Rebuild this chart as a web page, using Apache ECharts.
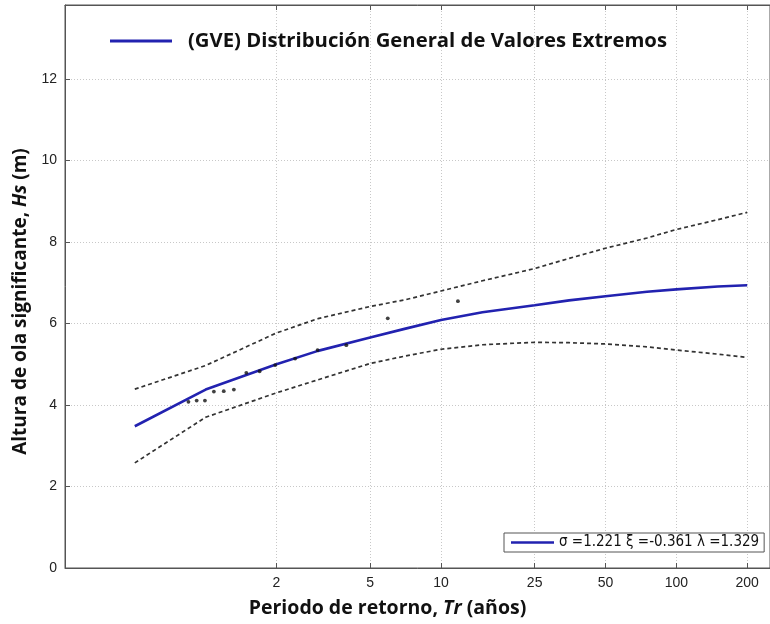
<!DOCTYPE html>
<html>
<head>
<meta charset="utf-8">
<script src="https://cdn.jsdelivr.net/npm/echarts@6/dist/echarts.min.js"></script>
</head>
<body style="margin:0;background:#fff">
<div id="main" style="width:770px;height:624px"></div>
<script type="text/javascript">
// return periods (years) where the fitted curve and its bounds are sampled
var periods  = [0.5, 1, 2, 3, 5, 7, 10, 15, 25, 35, 50, 75, 100, 150, 200];
var hsFit    = [3.48, 4.38, 5.00, 5.33, 5.66, 5.87, 6.09, 6.28, 6.45, 6.57, 6.67, 6.78, 6.84, 6.91, 6.94];
var hsUpper  = [4.39, 4.97, 5.77, 6.12, 6.42, 6.58, 6.80, 7.05, 7.35, 7.60, 7.85, 8.10, 8.31, 8.55, 8.73];
var hsLower  = [2.58, 3.70, 4.30, 4.62, 5.02, 5.20, 5.37, 5.48, 5.54, 5.53, 5.50, 5.43, 5.35, 5.25, 5.17];

// observed maxima
var obsPeriods = [0.845, 0.916, 0.993, 1.084, 1.194, 1.318, 1.489, 1.696, 1.975, 2.40, 2.99, 3.96, 5.94, 11.8];
var obsHs      = [4.08, 4.11, 4.11, 4.33, 4.34, 4.38, 4.79, 4.83, 4.98, 5.14, 5.35, 5.47, 6.13, 6.55];

var tickPeriods = [2, 5, 10, 25, 50, 100, 200];
var fitName = '(GVE) Distribución General de Valores Extremos';
var paramName = 'σ =1.221 ξ =-0.361 λ =1.329';

var xMin = Math.log10(0.2526), xMax = Math.log10(250);
var tickLogs = tickPeriods.map(function (t) { return Math.log10(t); });

function pairs(ts, vs) {
    return ts.map(function (t, i) { return [Math.log10(t), vs[i]]; });
}

var myChart = echarts.init(document.getElementById('main'));
var labelFont = 'Liberation Sans';
var titleFont = 'Open Sans';

option = {
    animation: false,
    backgroundColor: '#fff',
    grid: {
        left: 65, top: 5, width: 710, bottom: 56,
        show: true, borderColor: '#555', borderWidth: 1, backgroundColor: '#fff'
    },
    legend: [{
        data: [fitName],
        left: 105, top: 26,
        icon: 'rect', itemWidth: 62, itemHeight: 3,
        textStyle: { fontFamily: titleFont, fontWeight: 'bold', fontSize: 20.3, color: '#111', padding: [0, 0, 0, 11] }
    }, {
        data: [paramName],
        left: 504, top: 533,
        icon: 'rect', itemWidth: 43, itemHeight: 2.5,
        padding: [2, 5, 2, 7],
        borderColor: '#555', borderWidth: 1, backgroundColor: '#fff',
        textStyle: { fontFamily: 'DejaVu Sans Condensed', fontSize: 15, color: '#111' }
    }],
    xAxis: [{
        type: 'value', min: xMin, max: xMax,
        name: '{b|Periodo de retorno, }{bi|Tr}{b| (años)}',
        nameLocation: 'middle', nameGap: 30,
        nameTextStyle: {
            padding: [0, 60, 0, 0],
            rich: {
                b: { fontFamily: titleFont, fontWeight: 'bold', fontSize: 19.5, color: '#111' },
                bi: { fontFamily: titleFont, fontWeight: 'bold', fontStyle: 'italic', fontSize: 19.5, color: '#111' }
            }
        },
        axisLine: { show: true, onZero: false, lineStyle: { color: '#555' } },
        axisTick: { inside: true, length: 5, customValues: tickLogs, lineStyle: { color: '#555' } },
        axisLabel: {
            customValues: tickLogs, margin: 8,
            fontFamily: labelFont, fontSize: 14, color: '#222',
            formatter: function (v) { return String(Math.round(Math.pow(10, v))); }
        },
        splitLine: { show: true, lineStyle: { color: '#c8c8c8', type: [1, 2] } }
    }, {
        type: 'value', min: xMin, max: xMax, position: 'top',
        axisLine: { show: true, onZero: false, lineStyle: { color: '#555' } },
        axisTick: { inside: true, length: 5, customValues: tickLogs, lineStyle: { color: '#555' } },
        axisLabel: { show: false, customValues: tickLogs },
        splitLine: { show: false }
    }],
    yAxis: {
        type: 'value', min: 0, max: 13.82, interval: 2,
        name: '{b|Altura de ola significante, }{bi|Hs}{b| (m)}',
        nameLocation: 'middle', nameGap: 26, nameRotate: 90,
        nameTextStyle: {
            padding: [0, 30, 0, 0],
            rich: {
                b: { fontFamily: titleFont, fontWeight: 'bold', fontSize: 19, color: '#111' },
                bi: { fontFamily: titleFont, fontWeight: 'bold', fontStyle: 'italic', fontSize: 19, color: '#111' }
            }
        },
        axisLine: { show: true, onZero: false, lineStyle: { color: '#555' } },
        axisTick: { inside: true, length: 5, lineStyle: { color: '#555' } },
        axisLabel: { showMaxLabel: false, margin: 8, fontFamily: labelFont, fontSize: 14, color: '#222' },
        splitLine: { show: true, lineStyle: { color: '#c8c8c8', type: [1, 2] } }
    },
    series: [{
        name: fitName, type: 'line', data: pairs(periods, hsFit),
        symbol: 'none', lineStyle: { color: '#2222b0', width: 2.6 }, itemStyle: { color: '#2222b0' }, z: 4
    }, {
        name: paramName, type: 'line', data: [],
        symbol: 'none', lineStyle: { color: '#2222b0', width: 2.5 }, itemStyle: { color: '#2222b0' }
    }, {
        name: 'upper', type: 'line', data: pairs(periods, hsUpper),
        symbol: 'none', lineStyle: { color: '#333', width: 1.7, type: [4, 3] }
    }, {
        name: 'lower', type: 'line', data: pairs(periods, hsLower),
        symbol: 'none', lineStyle: { color: '#333', width: 1.7, type: [4, 3] }
    }, {
        name: 'obs', type: 'scatter', data: pairs(obsPeriods, obsHs),
        symbolSize: 3.8, itemStyle: { color: '#111' }, z: 5
    }]
};

myChart.setOption(option);
</script>
</body>
</html>
